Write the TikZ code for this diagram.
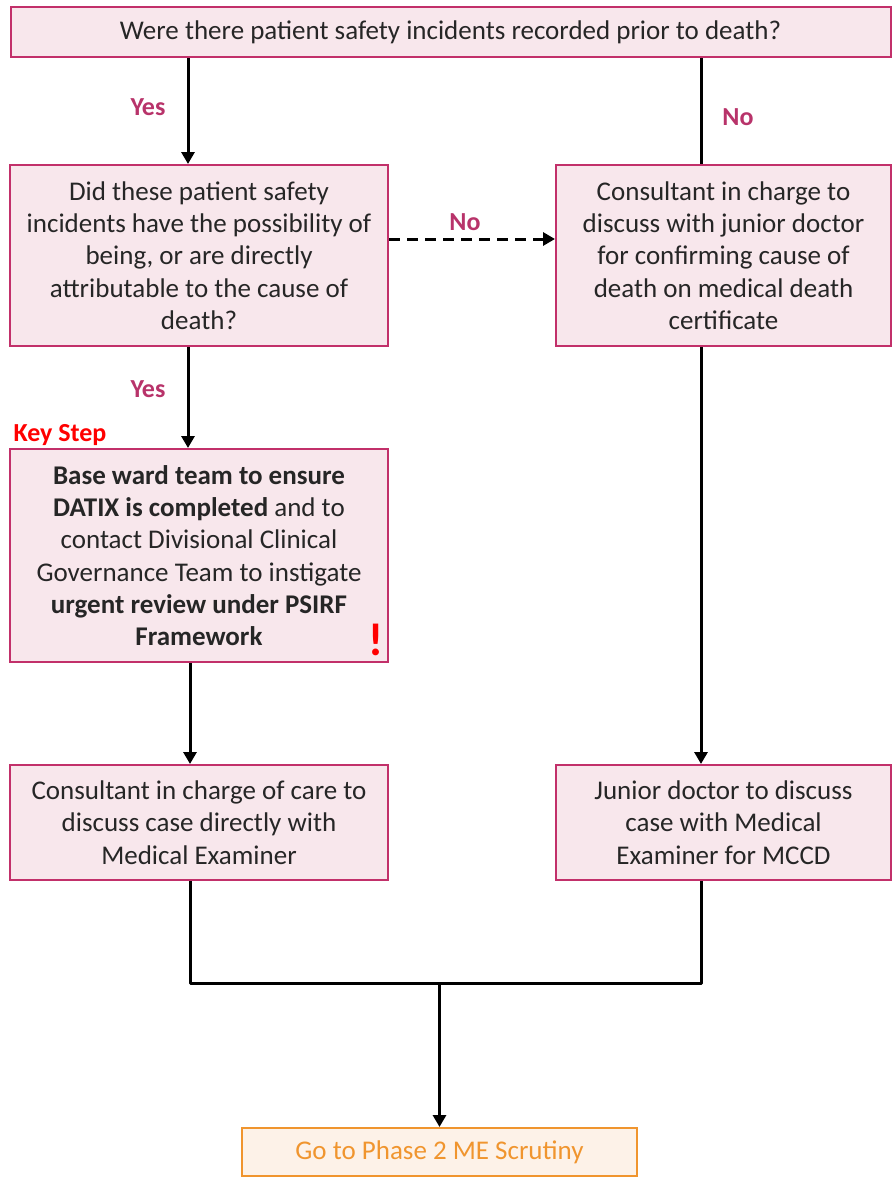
\documentclass[tikz,border=0pt]{standalone}
\usepackage{fontspec}
\setmainfont{Carlito}
\usetikzlibrary{arrows.meta,positioning}
\definecolor{boxfill}{HTML}{F8E7EC}
\definecolor{boxline}{HTML}{C2306A}
\definecolor{lblcol}{HTML}{B8336A}
\definecolor{orfill}{HTML}{FDF2E8}
\definecolor{orline}{HTML}{F0952E}
\begin{document}
\begin{tikzpicture}[x=1pt,y=-1pt,
  box/.style={draw=boxline,fill=boxfill,line width=2pt,inner sep=0pt,align=center,
    font=\fontsize{27}{32.3}\selectfont,text=black!85},
  link/.style={line width=3pt,draw=black},
  arr/.style={link,-{Triangle[width=13pt,length=12pt]}},
  lbl/.style={font=\fontsize{26}{28}\selectfont\bfseries,text=lblcol},
]
\useasboundingbox (0,0) rectangle (893,1178);
% question and action boxes
\node[box,minimum width=880pt,minimum height=50pt] (top) at (450.5,32)
  {Were there patient safety incidents recorded prior to death?};
\node[box,minimum width=378pt,minimum height=181pt] (A) at (199,255.5)
  {Did these patient safety\\incidents have the possibility of\\being, or are directly\\attributable to the cause of\\death?};
\node[box,minimum width=335pt,minimum height=181pt] (B) at (723.5,255.5)
  {Consultant in charge to\\discuss with junior doctor\\for confirming cause of\\death on medical death\\certificate};
\node[box,minimum width=378pt,minimum height=213pt] (C) at (199,555.5)
  {\textbf{Base ward team to ensure}\\\textbf{DATIX is completed} and to\\contact Divisional Clinical\\Governance Team to instigate\\\textbf{urgent review under PSIRF}\\\textbf{Framework}};
\node[box,minimum width=378pt,minimum height=115pt] (D) at (199,822.5)
  {Consultant in charge of care to\\discuss case directly with\\Medical Examiner};
\node[box,minimum width=335pt,minimum height=115pt] (E) at (723.5,822.5)
  {Junior doctor to discuss\\case with Medical\\Examiner for MCCD};
\node[draw=orline,fill=orfill,line width=2pt,inner sep=0pt,minimum width=395pt,minimum height=48pt,
  font=\fontsize{27}{30}\selectfont,text=orline] (F) at (439.5,1152) {Go to Phase 2 ME Scrutiny};
% annotations
\node[font=\fontsize{26}{28}\selectfont\bfseries,text=red] (key) at (60,435) {Key Step};
\node[font=\fontsize{46}{46}\selectfont\bfseries,text=red] (bang) at (376,640) {!};
% connector anchors
\coordinate (a1) at ([xshift=-11pt]A.north);
\coordinate (a2) at ([xshift=-11pt]A.south);
\coordinate (c1) at ([xshift=-11pt]C.north);
\coordinate (c2) at ([xshift=-9pt]C.south);
\coordinate (d1) at ([xshift=-9pt]D.north);
\coordinate (d2) at ([xshift=-9pt]D.south);
\coordinate (b1) at ([xshift=-22.5pt]B.north);
\coordinate (b2) at ([xshift=-22.5pt]B.south);
\coordinate (e1) at ([xshift=-22.5pt]E.north);
\coordinate (e2) at ([xshift=-22.5pt]E.south);
\coordinate (j1) at ([yshift=-102pt]d2);
\coordinate (j2) at ([yshift=-102pt]e2);
\coordinate (jm) at (F.north |- j1);
% connectors
\draw[arr] (a1 |- top.south) -- (a1);
\draw[link] (b1 |- top.south) -- (b1);
\draw[arr,dashed,dash pattern=on 11pt off 7pt] (A.east |- 0,239) -- (B.west |- 0,239);
\draw[arr] (a2) -- (c1);
\draw[arr] (c2) -- (d1);
\draw[arr] (b2) -- (e1);
\draw[link,line join=round] (d2) -- (j1) -- (j2) -- (e2);
\draw[arr] (jm) -- (F.north);
% branch labels
\node[lbl] (yes1) at (148,107) {Yes};
\node[lbl] (no1) at (738,117) {No};
\node[lbl] (no2) at (465,222) {No};
\node[lbl] (yes2) at (148,389) {Yes};
\end{tikzpicture}
\end{document}
